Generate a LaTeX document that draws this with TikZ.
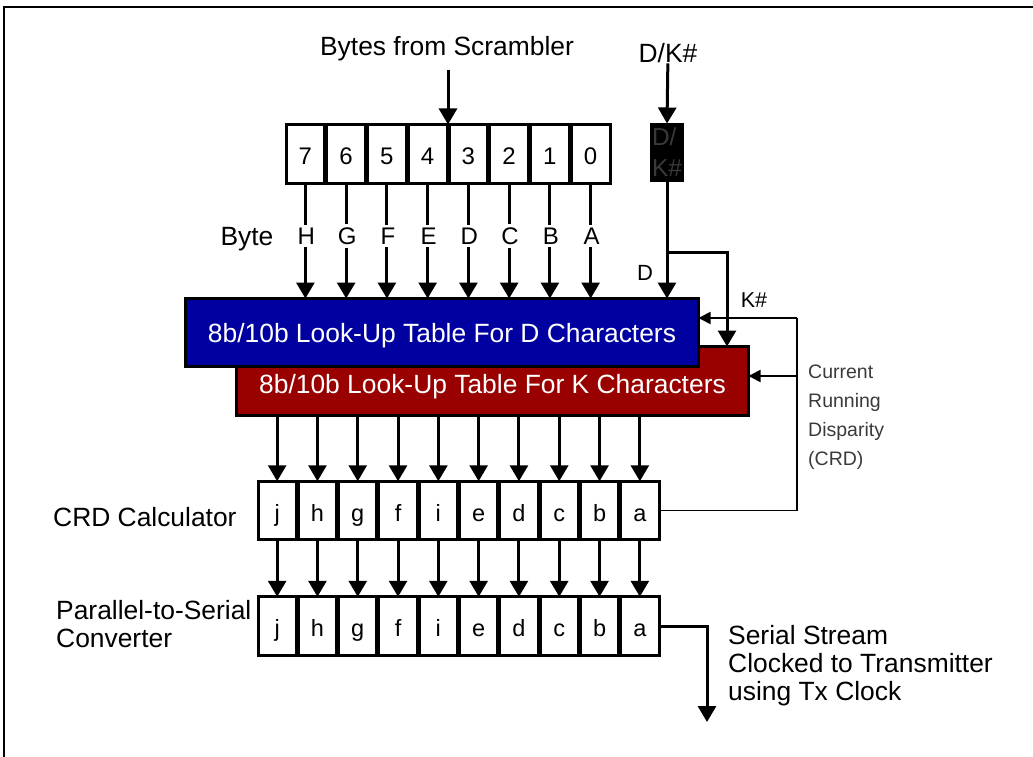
\documentclass[tikz,border=0pt]{standalone}
\usepackage{fontspec}
\setmainfont{Liberation Sans}
\usetikzlibrary{arrows.meta,calc}
\definecolor{dblue}{HTML}{0000A0}
\definecolor{dred}{HTML}{990000}
\definecolor{boxtxt}{HTML}{3A3A3A}
\tikzset{
  big/.style={inner sep=0pt, font=\fontsize{26.4}{28}\selectfont},
  mid/.style={inner sep=3pt, font=\fontsize{24}{26}\selectfont},
  note/.style={inner sep=0pt, font=\fontsize{19.5}{29}\selectfont, text=boxtxt},
  cellbyte/.style={draw, line width=3pt, minimum width=38.75pt, minimum height=59pt,
    inner sep=0pt, outer sep=0pt, text height=21pt, text depth=0pt,
    font=\fontsize{24}{26}\selectfont},
  cellbit/.style={draw, line width=3pt, minimum width=38.3pt, minimum height=58.5pt,
    inner sep=0pt, outer sep=0pt, text height=21pt, text depth=0pt,
    font=\fontsize{23.5}{26}\selectfont},
  arr/.style={line width=3pt, -{Triangle[length=16pt,width=18pt]}},
  wire/.style={line width=3pt},
  fine/.style={line width=1.8pt},
  finearr/.style={line width=1.8pt, -{Triangle[length=12pt,width=12pt]}},
  lut/.style={draw=black, line width=3pt, inner sep=0pt, outer sep=0pt, text=white,
    text depth=0pt, font=\fontsize{26.4}{28}\selectfont},
}
\begin{document}
\begin{tikzpicture}[x=1pt, y=-1pt]
\useasboundingbox (0,0) rectangle (1033,757);
% frame
\draw[line width=2.5pt] (1033,7) -- (4,7) -- (4,757);

% top labels
\node[big, anchor=base] (bfs) at (447,56) {Bytes from Scrambler};
\node[big, anchor=base] (dklab) at (668,63) {D/K\#};
\coordinate (bin) at (448,70);

% byte register
\foreach \t [count=\i from 0] in {7,6,5,4,3,2,1,0}{
  \node[cellbyte] (b\i) at (305.4+40.75*\i,154) {\t};
}
\draw[arr] (bin) -- (bin |- b0.north);

% D/K# box
\node[draw, fill=black, line width=1pt, minimum width=33pt, minimum height=58pt,
  inner sep=1pt, outer sep=0pt, align=left, text=boxtxt,
  font=\fontsize{24.5}{31}\selectfont] (dk) at (667,152.5) {D/\\K\#};
\draw[arr] (dklab) -- (dk.north);

% look-up tables
\node[lut, fill=dred, minimum width=512pt, minimum height=69pt, text height=24pt] (red) at (492.5,381)
  {8b/10b Look-Up Table For K Characters};
\node[lut, fill=dblue, minimum width=513pt, minimum height=68pt, text height=20pt] (blue) at (442,332.5)
  {8b/10b Look-Up Table For D Characters};

% byte bit labels and arrows
\node[big, anchor=base] (bytelab) at (247,245) {Byte};
\foreach \t [count=\i from 0] in {H,G,F,E,D,C,B,A}{
  \node[mid] (l\i) at (306.4+40.75*\i,236) {\t};
  \draw[wire] (b\i.south) -- (l\i.north -| b\i.south);
  \draw[arr] (l\i.south -| b\i.south) -- (b\i.south |- blue.north);
}

% D and K# paths
\coordinate (br) at (667,252);
\coordinate (brR) at (727,252);
\draw[arr] (dk.south) -- (dk.south |- blue.north);
\draw[arr] (br) -- (brR) -- (brR |- red.north);
\node[mid, inner sep=0pt, font=\fontsize{22}{24}\selectfont] (dlab) at (645,273) {D};
\node[mid, inner sep=0pt, font=\fontsize{21.5}{24}\selectfont] (klab) at (754,300) {K\#};

% CRD calculator row and parallel-to-serial row
\foreach \t [count=\i from 0] in {j,h,g,f,i,e,d,c,b,a}{
  \node[cellbit] (c\i) at (277.15+40.3*\i,510.5) {\t};
  \node[cellbit] (p\i) at (277.15+40.3*\i,626) {\t};
  \draw[arr] (c\i |- red.south) -- (c\i.north);
  \draw[arr] (c\i.south) -- (p\i.north);
}
\node[big, anchor=west] (crdlab) at (53,517) {CRD Calculator};
\node[big, anchor=north west, align=left] (pslab) at (56,600) {Parallel-to-Serial\\Converter};

% CRD feedback
\coordinate (fbt) at (797,318);
\coordinate (fbc) at (797,376);
\draw[fine] (c9.east) -- (c9.east -| fbt) -- (fbt);
\draw[finearr] (fbt) -- (fbt -| blue.east);
\draw[finearr] (fbc) -- (fbc -| red.east);
\node[note, anchor=north west, align=left] (crdnote) at (808,365)
  {Current\\Running\\Disparity\\(CRD)};

% serial output
\coordinate (sc) at (707,626);
\coordinate (send) at (707,722);
\draw[arr] (p9.east) -- (sc) -- (send);
\node[big, anchor=north west, align=left] (serlab) at (728,625)
  {Serial Stream\\Clocked to Transmitter\\using Tx Clock};
\end{tikzpicture}
\end{document}
